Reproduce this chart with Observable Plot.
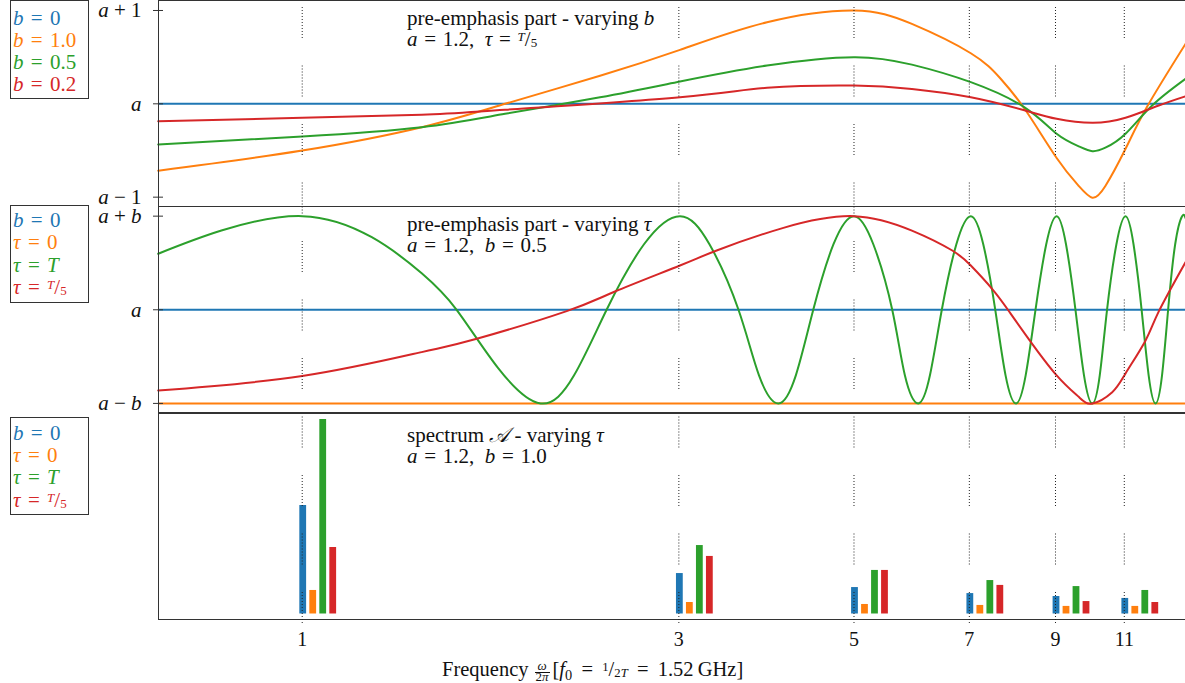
<!DOCTYPE html>
<html>
<head>
<meta charset="utf-8">
<script src="https://cdn.jsdelivr.net/npm/d3@7"></script>
<script src="https://cdn.jsdelivr.net/npm/@observablehq/plot@0.6"></script>
<style>
html,body{margin:0;padding:0;background:#fff;overflow:hidden}
#wrap{position:relative;width:1185px;height:683px;overflow:hidden;background:#fff}
#charts svg{position:absolute;left:0;max-width:none}
.t{position:absolute;font-family:"Liberation Serif","DejaVu Serif",serif;font-size:21px;line-height:21px;color:#111;white-space:nowrap}
.lg{position:absolute;left:10px;width:79px;box-sizing:border-box;border:1px solid #333;background:#fff;
    font-family:"Liberation Serif","DejaVu Serif",serif;font-size:21px;line-height:22.3px;padding-left:2px;white-space:nowrap}
.nf sup{font-size:0.62em;vertical-align:0.42em;line-height:0}
.nf sub{font-size:0.62em;vertical-align:-0.05em;line-height:0}
.frac{display:inline-block;position:relative;width:15px;height:20px;vertical-align:baseline;margin:0 3px 0 6px}
.frac .num{position:absolute;left:0;right:0;top:3px;text-align:center;font-size:13px;line-height:13px;border-bottom:1px solid #111}
.frac .den{position:absolute;left:-1px;right:-1px;top:14.5px;text-align:center;font-size:13px;line-height:13px}
.sub0{font-size:0.7em;vertical-align:-0.25em;line-height:0}
.cal{font-family:"DejaVu Serif","Noto Sans",serif;font-style:italic}
.eq{margin:0 0.07em}
.xl .eq{margin:0 0.2em}
.lg .eq{margin:0 0.1em}
</style>
</head>
<body>
<div id="wrap">
  <div id="charts"></div>

  <div class="lg" style="top:0px;height:99px;padding-top:5.5px">
    <div style="color:#1f77b4"><i>b</i> <span class="eq">=</span> 0</div>
    <div style="color:#ff7f0e"><i>b</i> <span class="eq">=</span> 1.0</div>
    <div style="color:#2ca02c"><i>b</i> <span class="eq">=</span> 0.5</div>
    <div style="color:#d62728"><i>b</i> <span class="eq">=</span> 0.2</div>
  </div>
  <div class="lg" style="top:205px;height:98px;padding-top:3.2px">
    <div style="color:#1f77b4"><i>b</i> <span class="eq">=</span> 0</div>
    <div style="color:#ff7f0e"><i>τ</i> <span class="eq">=</span> 0</div>
    <div style="color:#2ca02c"><i>τ</i> <span class="eq">=</span> <i>T</i></div>
    <div style="color:#d62728"><i>τ</i> <span class="eq">=</span> <span class="nf"><sup><i>T</i></sup>/<sub>5</sub></span></div>
  </div>
  <div class="lg" style="top:417px;height:98px;padding-top:3.7px">
    <div style="color:#1f77b4"><i>b</i> <span class="eq">=</span> 0</div>
    <div style="color:#ff7f0e"><i>τ</i> <span class="eq">=</span> 0</div>
    <div style="color:#2ca02c"><i>τ</i> <span class="eq">=</span> <i>T</i></div>
    <div style="color:#d62728"><i>τ</i> <span class="eq">=</span> <span class="nf"><sup><i>T</i></sup>/<sub>5</sub></span></div>
  </div>

  <div class="t" style="left:407px;top:8px">pre-emphasis part - varying <i>b</i><br><i>a</i> <span class="eq">=</span> 1.2, &nbsp;<i>τ</i> <span class="eq">=</span> <span class="nf"><sup><i>T</i></sup>/<sub>5</sub></span></div>
  <div class="t" style="left:407px;top:214px">pre-emphasis part - varying <i>τ</i><br><i>a</i> <span class="eq">=</span> 1.2, &nbsp;<i>b</i> <span class="eq">=</span> 0.5</div>
  <div class="t" style="left:407px;top:425px">spectrum <span class="cal">&#x1D49C;</span> - varying <i>τ</i><br><i>a</i> <span class="eq">=</span> 1.2, &nbsp;<i>b</i> <span class="eq">=</span> 1.0</div>

  <div class="t xl" style="left:442px;top:655.5px;font-size:20.5px">Frequency<span class="frac"><span class="num"><i>ω</i></span><span class="den">2<i>π</i></span></span>[<i>f</i><span class="sub0">0</span> <span class="eq">=</span> <span class="nf"><sup>1</sup>/<sub>2<i>T</i></sub></span> <span class="eq">=</span> 1.52&#8201;GHz]</div>
</div>

<script>
// ---------- data ----------
const harmonics = [1, 3, 5, 7, 9, 11];            // x tick values / spectral lines
const xTickLabels = ["1", "3", "5", "7", "9", "11"];

// panel 1: pre-emphasis part, varying b (value relative to a, in units of 1)
const p1Ticks = [-1, 0, 1];
const p1TickLabels = ["a − 1", "a", "a + 1"];
const p1_b0 = 0;
const p1_b10 = [[0.657,-0.716],[1,-0.50],[1.417,-0.25],[1.807,0.0],[2.384,0.30],[3.01,0.578],[3.88,0.874],[5.0,1.0],
  [5.92,0.856],[7.03,0.542],[7.66,0.274],[8.24,-0.064],[9.03,-0.58],[9.63,-0.88],[10.02,-1.006],
  [10.41,-0.88],[11.04,-0.482],[11.76,-0.029],[13.15,0.642]];
const p1_b05 = [[0.657,-0.436],[1,-0.35],[1.417,-0.25],[1.807,-0.107],[2.384,0.07],[3.01,0.239],[3.88,0.41],[5.0,0.50],
  [5.92,0.42],[7.03,0.232],[8.24,-0.043],[9.03,-0.321],[9.63,-0.455],[10.02,-0.507],[10.41,-0.47],[11.04,-0.32],
  [11.93,-0.018],[13.15,0.268]];
const p1_b02 = [[0.657,-0.186],[1,-0.15],[1.417,-0.118],[1.807,-0.064],[3.01,0.071],[3.88,0.171],[5.0,0.196],
  [5.92,0.16],[7.03,0.071],[8.24,-0.072],[9.03,-0.161],[10.02,-0.204],[11.04,-0.15],[12.16,-0.018],[13.15,0.081]];

// panel 2: pre-emphasis part, varying tau (value relative to a, in units of b)
const p2Ticks = [-1, 0, 1];
const p2TickLabels = ["a − b", "a", "a + b"];
const p2_b0 = 0;
const p2_tau0 = -1;
const p2_tauT = [[0.657,0.598],[0.79,0.846],[1,1.0],[1.225,0.775],[1.417,0.39],[1.569,0.0],[1.77,-0.62],[2.005,-1.0],
  [2.21,-0.70],[2.43,0.0],[2.71,0.70],[3.01,1.0],[3.28,0.70],[3.57,0.0],[3.79,-0.70],[4.01,-1.0],[4.22,-0.70],
  [4.44,0.0],[4.71,0.70],[5.0,1.0],[5.29,0.70],[5.59,0.0],[5.80,-0.70],[6.03,-1.0],[6.24,-0.70],[6.46,0.0],
  [6.74,0.70],[7.03,1.0],[7.29,0.70],[7.55,0.0],[7.78,-0.70],[8.02,-1.0],[8.25,-0.70],[8.49,0.0],[8.76,0.70],
  [9.03,1.0],[9.28,0.70],[9.54,0.0],[9.78,-0.70],[10.02,-1.0],[10.24,-0.70],[10.46,0.0],[10.75,0.70],[11.04,1.0],
  [11.30,0.70],[11.57,0.0],[11.81,-0.70],[12.05,-1.0],[12.28,-0.70],[12.5,0.0],[12.76,0.70],[13.02,1.0],[13.15,0.98]];
const p2_tauT5 = [[0.657,-0.861],[1,-0.708],[1.417,-0.452],[1.664,-0.31],[2.163,-0.014],[2.49,0.195],[3.01,0.473],
  [3.35,0.633],[4.07,0.875],[5.0,1.0],[5.92,0.846],[6.66,0.633],[7.03,0.473],[7.48,0.224],[7.85,-0.01],[8.32,-0.31],
  [9.03,-0.70],[9.63,-0.93],[10.02,-1.0],[10.62,-0.88],[11.04,-0.68],[11.70,-0.33],[12.16,-0.02],[13.15,0.508]];

// panel 3: spectrum amplitudes (relative)
const specB0    = [0.558, 0.208, 0.136, 0.105, 0.090, 0.080];
const specTau0  = [0.121, 0.059, 0.049, 0.044, 0.039, 0.039];
const specTauT  = [1.000, 0.352, 0.224, 0.172, 0.141, 0.121];
const specTauT5 = [0.342, 0.296, 0.224, 0.147, 0.064, 0.059];

// ---------- helpers ----------
const blue = "#1f77b4", orange = "#ff7f0e", green = "#2ca02c", red = "#d62728";
const frameColor = "#333";
const fDomain = [0.657, 13.15];
const xRange = [157.7, 1185];
const W = 1190;
const pts = arr => arr.map(([f, v]) => ({f, v}));
const bars = vals => harmonics.map((f, i) => ({f, v: vals[i]}));
const baseStyle = {background: "transparent", fontFamily: "'Liberation Serif', 'DejaVu Serif', serif", fontSize: "21px", color: "#111", overflow: "visible"};
const charts = document.getElementById("charts");

function place(svg, top, h) {
  svg.style.position = "absolute";
  svg.style.top = top + "px";
  svg.style.left = "0px";
  svg.style.width = W + "px";
  svg.style.height = h + "px";
  svg.style.maxWidth = "none";
  charts.appendChild(svg);
}
function mathify(svg) {
  svg.querySelectorAll('g[aria-label="y-axis tick label"] text').forEach(el => {
    const s = el.textContent;
    while (el.firstChild) el.removeChild(el.firstChild);
    s.split(/([A-Za-zτ])/).forEach(tok => {
      if (!tok) return;
      const ts = document.createElementNS("http://www.w3.org/2000/svg", "tspan");
      if (/^[A-Za-zτ]$/.test(tok)) ts.setAttribute("font-style", "italic");
      ts.textContent = tok;
      el.appendChild(ts);
    });
  });
}
const lineOpts = c => ({x: "f", y: "v", stroke: c, strokeWidth: 2, curve: "natural"});

// ---------- panel 1 ----------
const svg1 = Plot.plot({
  width: W, height: 207, marginLeft: 158, marginRight: 0, marginTop: 0, marginBottom: 1,
  style: baseStyle,
  x: {type: "log", domain: fDomain, range: xRange, axis: null},
  y: {domain: [-1.100, 1.107]},
  marks: [
    Plot.ruleY([p1_b0], {stroke: blue, strokeWidth: 2}),
    Plot.line(pts(p1_b10), lineOpts(orange)),
    Plot.line(pts(p1_b05), lineOpts(green)),
    Plot.line(pts(p1_b02), lineOpts(red)),
    Plot.frame({stroke: frameColor}),
    Plot.axisY(p1Ticks, {tickSize: 10, dx: 5, fill: "none", stroke: frameColor, label: null}),
    Plot.axisY(p1Ticks, {tickSize: 0, tickPadding: 17, label: null, fill: "#111",
      tickFormat: d => p1TickLabels[p1Ticks.indexOf(d)]})
  ]
});
mathify(svg1);
place(svg1, 0, 207);

// ---------- panel 2 ----------
const svg2 = Plot.plot({
  width: W, height: 207, marginLeft: 158, marginRight: 0, marginTop: 0, marginBottom: 1,
  style: baseStyle,
  x: {type: "log", domain: fDomain, range: xRange, axis: null},
  y: {domain: [-1.097, 1.103]},
  marks: [
    Plot.ruleY([p2_b0], {stroke: blue, strokeWidth: 2}),
    Plot.ruleY([p2_tau0], {stroke: orange, strokeWidth: 2}),
    Plot.line(pts(p2_tauT), lineOpts(green)),
    Plot.line(pts(p2_tauT5), lineOpts(red)),
    Plot.frame({stroke: frameColor}),
    Plot.axisY(p2Ticks, {tickSize: 10, dx: 5, fill: "none", stroke: frameColor, label: null}),
    Plot.axisY(p2Ticks, {tickSize: 0, tickPadding: 17, label: null, fill: "#111",
      tickFormat: d => p2TickLabels[p2Ticks.indexOf(d)]})
  ]
});
mathify(svg2);
place(svg2, 206, 207);

// ---------- panel 3 ----------
const barW = 6.8;
const svg3 = Plot.plot({
  width: W, height: 271, marginLeft: 158, marginRight: 0, marginTop: 1, marginBottom: 64,
  style: baseStyle,
  x: {type: "log", domain: fDomain, range: xRange},
  y: {domain: [-0.0283, 1.031], axis: null},
  marks: [
    Plot.ruleX(bars(specB0),    {x: "f", y1: 0, y2: "v", stroke: blue,   strokeWidth: barW, dx: 0.5}),
    Plot.ruleX(bars(specTau0),  {x: "f", y1: 0, y2: "v", stroke: orange, strokeWidth: barW, dx: 10.5}),
    Plot.ruleX(bars(specTauT),  {x: "f", y1: 0, y2: "v", stroke: green,  strokeWidth: barW, dx: 20.5}),
    Plot.ruleX(bars(specTauT5), {x: "f", y1: 0, y2: "v", stroke: red,    strokeWidth: barW, dx: 30.5}),
    Plot.frame({stroke: frameColor}),
    Plot.axisX(harmonics, {tickSize: 0, tickPadding: 12, label: null, fill: "#111", fontSize: 20,
      tickFormat: d => xTickLabels[harmonics.indexOf(d)]})
  ]
});
place(svg3, 412, 271);

// ---------- dotted vertical guides across all panels ----------
const dash = Array(10).fill("1 2").join(" ") + " 1 27.5";
const svg4 = Plot.plot({
  width: W, height: 683, marginLeft: 158, marginRight: 0, marginTop: 7, marginBottom: 60,
  style: baseStyle,
  x: {type: "log", domain: fDomain, range: xRange, axis: null},
  marks: [
    Plot.ruleX(harmonics, {stroke: "#222", strokeWidth: 1, strokeDasharray: dash})
  ]
});
place(svg4, 0, 683);
</script>
</body>
</html>
